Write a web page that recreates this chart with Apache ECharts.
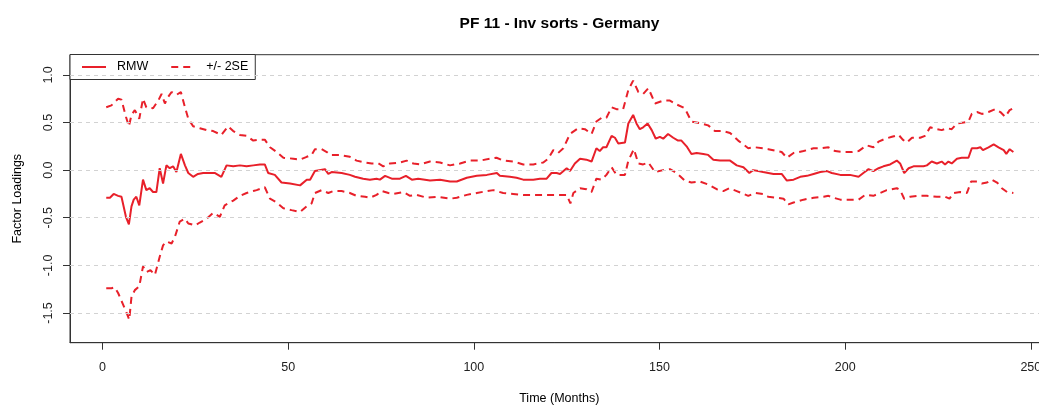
<!DOCTYPE html>
<html><head><meta charset="utf-8">
<script src="https://cdn.jsdelivr.net/npm/echarts@6/dist/echarts.min.js"></script>
<style>html,body{margin:0;padding:0;background:#fff}#c{width:1039px;height:405px}</style>
</head><body><div id="c"></div>
<script>
const chartTitle = 'PF 11 - Inv sorts - Germany';
const xAxisTitle = 'Time (Months)';
const yAxisTitle = 'Factor Loadings';
const legendNames = ['RMW', '+/- 2SE'];
const xTicks = [0, 50, 100, 150, 200, 250];
const yTicks = [-1.5, -1.0, -0.5, 0.0, 0.5, 1.0];

const rmwMonths = [1,2,3,4.2,5.1,6.3,7.1,7.8,8.4,9.1,9.9,10.9,11.8,12.7,13.6,14.5,15.4,16.3,17.2,18.1,19,19.9,21.1,22.2,23.1,24.4,25.7,27.1,28.9,30.2,32,33.4,35.2,37,38.8,40.6,42.4,43.7,44.6,46.4,48.2,50.5,53.2,55,55.9,57.2,59.9,60.8,61.7,64.4,66.6,68,70.2,72,73.8,74.7,76.1,77.9,80.1,81.7,83.3,85,88.2,90.9,93.6,95.4,98.1,100.8,103.5,106.2,107,109.7,111.5,113.3,116,117.8,119.6,120.9,122.3,123.2,125,125.9,127.2,128.6,130.3,131.7,133,133.9,134.8,135.7,137.1,138,138.9,140.7,141.6,142.9,143.8,144.7,145.6,146.8,147.9,149,150.1,151,152.3,153.7,155,155.9,157.3,158.6,160,161.8,163.1,164.5,166.3,169,170.8,172.6,174.2,175.2,176.6,177.9,179.3,180.7,182.9,184.3,186.1,187.9,189.7,191.5,193.3,195.1,196.4,198.7,201.3,203.6,204.9,206.3,207.6,209,210.3,212.1,213.9,214.8,215.9,217.1,218.4,221.1,222,223.3,224.7,226,226.9,227.8,228.7,230.1,231.4,233.2,234.1,235.5,236.4,237.1,238.6,240,241.3,242.7,243.4,244.3,245.3];
const rmwValues = [-0.29,-0.29,-0.25,-0.27,-0.28,-0.49,-0.57,-0.38,-0.31,-0.28,-0.37,-0.10,-0.21,-0.19,-0.23,-0.23,0.02,-0.14,0.05,0.02,0.04,-0.02,0.17,0.05,-0.03,-0.07,-0.04,-0.03,-0.03,-0.03,-0.07,0.05,0.04,0.05,0.04,0.05,0.06,0.06,-0.03,-0.05,-0.13,-0.14,-0.16,-0.10,-0.10,-0.01,0.01,-0.04,-0.02,-0.03,-0.05,-0.07,-0.09,-0.10,-0.09,-0.10,-0.06,-0.09,-0.09,-0.06,-0.10,-0.09,-0.11,-0.10,-0.12,-0.12,-0.08,-0.06,-0.05,-0.03,-0.06,-0.07,-0.08,-0.10,-0.10,-0.09,-0.09,-0.03,-0.03,-0.04,0.02,-0.01,0.07,0.12,0.11,0.09,0.23,0.20,0.24,0.24,0.36,0.34,0.28,0.29,0.49,0.58,0.49,0.43,0.45,0.49,0.42,0.33,0.35,0.33,0.38,0.34,0.31,0.31,0.25,0.17,0.18,0.17,0.16,0.11,0.10,0.10,0.05,0.03,-0.03,0.00,-0.01,-0.02,-0.03,-0.04,-0.04,-0.11,-0.10,-0.07,-0.06,-0.04,-0.02,-0.01,-0.03,-0.05,-0.05,-0.07,-0.03,0.01,-0.01,0.02,0.04,0.06,0.10,0.07,-0.03,0.02,0.04,0.04,0.05,0.09,0.07,0.09,0.06,0.09,0.07,0.12,0.13,0.13,0.23,0.23,0.24,0.21,0.24,0.27,0.24,0.21,0.17,0.22,0.19];

const upperMonths = [1,2.4,4.2,5.1,6.3,7.1,7.8,8.7,9.9,10.9,11.8,13.6,15,15.9,16.8,17.7,18.6,19.9,21.1,22.2,23.1,24.4,26.2,28,29.8,32,33.8,35.2,37,38.8,40.6,42.4,43.7,45.1,46.9,48.7,51.4,53.2,55,56.3,57.2,59,60.4,61.3,63.9,66.6,68.4,70.7,72.5,74.3,75.6,77.4,80.1,81.9,83.7,85.5,88.2,90.9,93.6,96.3,99,101.7,104.4,106.1,107.9,110.6,113.3,116,118.7,120,121.4,122.7,124.1,125.9,128.1,129.9,131.7,133,134.4,135.7,137.1,138.4,140.2,141.6,142.9,144.3,145.6,147,148.8,151,152.8,154.6,156.8,158.6,161.3,163.1,164.9,167.2,169,171.2,173.9,175.7,177.9,179.3,181.6,182.9,184.3,186.1,188.8,191.5,193.7,195.5,197.3,199.6,201.8,203.6,205.8,207.6,209,210.8,212.6,214.4,215.5,216.6,218,220.2,221.5,222.9,224.7,226,227.4,228.7,230.1,231.9,233.2,234.1,235.5,236.8,238.6,240.4,241.8,243.1,244.3,245.3];
const upperValues = [0.66,0.68,0.75,0.74,0.56,0.46,0.58,0.63,0.54,0.75,0.66,0.65,0.73,0.80,0.70,0.77,0.82,0.79,0.82,0.66,0.54,0.46,0.44,0.42,0.41,0.37,0.46,0.41,0.37,0.36,0.31,0.32,0.32,0.24,0.19,0.13,0.12,0.11,0.14,0.16,0.22,0.22,0.19,0.16,0.16,0.14,0.10,0.08,0.07,0.07,0.04,0.07,0.08,0.10,0.07,0.06,0.09,0.08,0.05,0.07,0.10,0.10,0.12,0.13,0.10,0.09,0.06,0.06,0.08,0.12,0.21,0.18,0.23,0.38,0.44,0.43,0.38,0.51,0.55,0.55,0.66,0.64,0.64,0.84,0.94,0.82,0.80,0.86,0.70,0.73,0.73,0.69,0.65,0.51,0.49,0.47,0.41,0.41,0.39,0.31,0.23,0.24,0.23,0.22,0.20,0.19,0.13,0.18,0.20,0.23,0.23,0.24,0.20,0.19,0.19,0.20,0.26,0.24,0.30,0.33,0.35,0.37,0.32,0.29,0.34,0.34,0.36,0.45,0.43,0.42,0.44,0.43,0.49,0.50,0.51,0.59,0.61,0.59,0.61,0.64,0.61,0.56,0.63,0.65];

const lowerMonths = [1,2.4,3.3,4.2,5.4,6.5,7.2,7.8,8.7,9.9,10.9,11.8,12.9,14.1,15.4,16.3,17.2,18.6,19.5,20.8,22.2,23.1,24.9,26.2,28,29.8,31.6,32.9,35.2,37,38.8,40.6,41.5,43.7,45.1,46.9,48.7,50.9,53.2,55,56.3,57.2,59,60.8,62.1,64.4,66.6,68.4,70.7,72,73.8,75.2,77,78.3,81,82.8,84.6,87.3,90,93.6,95.4,98.1,100.8,103.5,105.3,107.9,110.6,113.3,116,118.7,123.2,125,126,126.8,128.6,130.3,131.7,133,134.4,135.7,137.1,138.4,140.7,141.6,143.1,144.3,145.6,147,148.8,151,152.8,154.6,156.8,158.6,160.9,163.1,165.4,167.2,168.8,170.8,173.9,175.7,177.9,179.3,181.6,183.4,184.7,186.1,188.8,191.5,194.2,195.5,196.9,198.7,201.3,203.6,205.4,207.6,209.4,211.2,213.9,214.8,215.9,217.5,219.8,222,224.7,226.9,228.1,229.2,231,232.8,233.9,235.5,236.8,238.2,239.5,240.9,242.2,243.6,245.3];
const lowerValues = [-1.24,-1.24,-1.23,-1.29,-1.40,-1.50,-1.57,-1.33,-1.26,-1.22,-1.01,-1.07,-1.05,-1.10,-0.91,-0.79,-0.75,-0.77,-0.70,-0.54,-0.51,-0.56,-0.58,-0.55,-0.51,-0.45,-0.49,-0.37,-0.32,-0.27,-0.24,-0.22,-0.21,-0.18,-0.30,-0.34,-0.40,-0.42,-0.44,-0.38,-0.35,-0.24,-0.21,-0.24,-0.22,-0.22,-0.24,-0.27,-0.28,-0.29,-0.26,-0.22,-0.24,-0.25,-0.23,-0.27,-0.26,-0.29,-0.28,-0.30,-0.29,-0.26,-0.24,-0.22,-0.21,-0.24,-0.25,-0.26,-0.26,-0.26,-0.26,-0.26,-0.35,-0.24,-0.19,-0.20,-0.23,-0.09,-0.10,-0.05,0.03,-0.05,-0.05,0.10,0.22,0.07,0.06,0.08,-0.02,0.00,0.01,-0.03,-0.11,-0.13,-0.12,-0.15,-0.20,-0.22,-0.19,-0.22,-0.27,-0.24,-0.25,-0.28,-0.29,-0.30,-0.36,-0.34,-0.31,-0.29,-0.28,-0.27,-0.29,-0.31,-0.31,-0.31,-0.26,-0.27,-0.24,-0.21,-0.19,-0.21,-0.30,-0.28,-0.27,-0.27,-0.28,-0.28,-0.30,-0.24,-0.23,-0.24,-0.12,-0.12,-0.14,-0.13,-0.10,-0.13,-0.19,-0.23,-0.24];

const pairs = (xs, ys) => xs.map((x, i) => [x, ys[i]]);
const FONT = '"Liberation Sans", Arial, Helvetica, sans-serif';
const RED = '#e8202a';

const chart = echarts.init(document.getElementById('c'), null, {renderer: 'canvas'});
chart.setOption({
  animation: false,
  backgroundColor: '#fff',
  textStyle: {fontFamily: FONT},
  graphic: [{
    type: 'text', x: 559.5, y: 24,
    style: {text: chartTitle, font: 'bold 15.5px ' + FONT, fill: '#000', textAlign: 'center', textVerticalAlign: 'middle'}
  }],
  grid: {left: 70, top: 54.7, right: -9.5, bottom: 62.3, containLabel: false, outerBoundsMode: 'none',
         show: true, borderColor: '#333', borderWidth: 1, backgroundColor: 'transparent'},
  legend: {
    left: 70, top: 54.5, orient: 'horizontal', data: legendNames,
    backgroundColor: '#fff', borderColor: '#333', borderWidth: 1, borderRadius: 0,
    padding: [6, 7, 6, 11], itemGap: 22, itemWidth: 24, itemHeight: 13,
    itemStyle: {color: 'rgba(0,0,0,0)', borderColor: 'rgba(0,0,0,0)', borderWidth: 0, opacity: 0},
    textStyle: {fontSize: 12.5, color: '#000', fontFamily: FONT, padding: [0, 0, 0, 6]}
  },
  xAxis: {
    type: 'value', min: -8.76, max: 254.76,
    name: xAxisTitle, nameLocation: 'middle', nameGap: 49,
    nameTextStyle: {fontSize: 12.5, color: '#000', fontFamily: FONT},
    axisLine: {show: true, onZero: false, lineStyle: {color: '#333', width: 1}},
    axisTick: {show: true, customValues: xTicks, length: 7, inside: false, lineStyle: {color: '#333'}},
    axisLabel: {show: true, customValues: xTicks, margin: 18, fontSize: 12.5, color: '#222', fontFamily: FONT, formatter: v => String(v)},
    splitLine: {show: false}
  },
  yAxis: {
    type: 'value', min: -1.812, max: 1.212,
    name: yAxisTitle, nameLocation: 'middle', nameGap: 46, nameRotate: 90,
    nameTextStyle: {fontSize: 12.5, color: '#000', fontFamily: FONT},
    axisLine: {show: true, onZero: false, lineStyle: {color: '#333', width: 1}},
    axisTick: {show: true, customValues: yTicks, length: 7, inside: false, lineStyle: {color: '#333'}},
    axisLabel: {show: true, customValues: yTicks, rotate: 90, margin: 15, fontSize: 12.5, color: '#222', fontFamily: FONT, formatter: v => v.toFixed(1)},
    splitLine: {show: false}
  },
  series: [
    {
      name: '_grid', type: 'line', data: [], z: 1, silent: true,
      markLine: {
        silent: true, symbol: ['none', 'none'], label: {show: false}, animation: false,
        lineStyle: {color: '#d2d2d2', type: [4, 4], width: 1},
        data: yTicks.map(v => ({yAxis: v}))
      }
    },
    {name: 'RMW', type: 'line', data: pairs(rmwMonths, rmwValues), showSymbol: false, symbol: 'none', z: 3,
     lineStyle: {color: RED, width: 2, type: 'solid'}, itemStyle: {color: RED}},
    {name: '+/- 2SE', type: 'line', data: pairs(upperMonths, upperValues), showSymbol: false, symbol: 'none', z: 3,
     lineStyle: {color: RED, width: 2, type: [7, 5]}, itemStyle: {color: RED}},
    {name: '+/- 2SE', type: 'line', data: pairs(lowerMonths, lowerValues), showSymbol: false, symbol: 'none', z: 3,
     lineStyle: {color: RED, width: 2, type: [7, 5]}, itemStyle: {color: RED}}
  ]
});
</script></body></html>
